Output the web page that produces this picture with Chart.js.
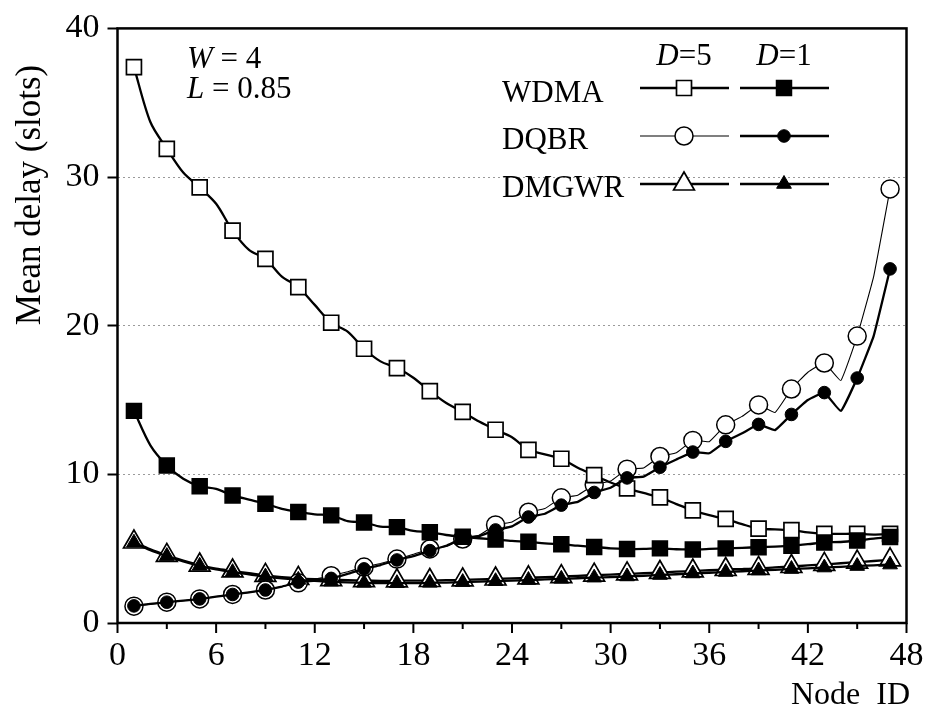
<!DOCTYPE html>
<html>
<head>
<meta charset="utf-8">
<title>Mean delay per node</title>
<script src="https://cdn.jsdelivr.net/npm/chart.js@4/dist/chart.umd.min.js"></script>
<style>
  html, body { margin: 0; padding: 0; background: #fff; }
  #wrap { width: 929px; height: 713px; position: relative; }
</style>
</head>
<body>
<div id="wrap"><canvas id="chart"></canvas></div>
<script>
// ===== data =====
const nodes = [1, 2, 3, 4, 5, 6, 7, 8, 9, 10, 11, 12, 13, 14, 15, 16, 17, 18, 19, 20, 21, 22, 23, 24,
  25, 26, 27, 28, 29, 30, 31, 32, 33, 34, 35, 36, 37, 38, 39, 40, 41, 42, 43, 44, 45, 46, 47];

const wdmaD5 = [37.4, 33.7, 31.9, 30.3, 29.3, 28.2, 26.4, 25.1, 24.5, 23.3, 22.6, 21.4, 20.2, 19.6,
  18.45, 17.6, 17.15, 16.5, 15.6, 14.8, 14.2, 13.55, 13.0, 12.5, 11.65, 11.35, 11.05, 10.45, 9.95,
  9.45, 9.05, 8.75, 8.45, 8.0, 7.58, 7.25, 7.0, 6.65, 6.35, 6.3, 6.25, 6.1, 6.0, 6.0, 6.0, 5.95, 6.0];
const wdmaD1 = [14.27, 11.95, 10.6, 9.7, 9.2, 9.02, 8.58, 8.3, 8.03, 7.68, 7.47, 7.31, 7.24, 6.85,
  6.76, 6.48, 6.45, 6.2, 6.1, 5.92, 5.8, 5.7, 5.62, 5.52, 5.47, 5.35, 5.3, 5.2, 5.12, 5.02, 4.98,
  4.98, 5.02, 4.96, 4.95, 4.98, 5.02, 5.06, 5.1, 5.14, 5.2, 5.3, 5.42, 5.45, 5.55, 5.68, 5.78];
const dqbrD5 = [1.13, 1.27, 1.4, 1.5, 1.62, 1.78, 1.92, 2.06, 2.22, 2.45, 2.7, 2.95, 3.18, 3.45,
  3.76, 4.0, 4.3, 4.62, 4.98, 5.15, 5.65, 5.9, 6.6, 6.8, 7.45, 7.7, 8.42, 8.6, 9.3, 9.55, 10.35,
  10.42, 11.2, 11.45, 12.28, 12.2, 13.33, 13.9, 14.67, 14.16, 15.74, 16.87, 17.49, 16.31, 19.3, 23.3, 29.2];
const dqbrD1 = [1.15, 1.28, 1.4, 1.5, 1.62, 1.77, 1.92, 2.06, 2.22, 2.45, 2.75, 2.85, 3.0, 3.3,
  3.64, 3.9, 4.24, 4.5, 4.87, 5.2, 5.71, 5.85, 6.26, 6.5, 7.13, 7.35, 7.93, 8.15, 8.78, 9.1, 9.76,
  9.85, 10.48, 11.0, 11.5, 11.42, 12.22, 12.76, 13.36, 12.98, 14.03, 15.0, 15.5, 14.26, 16.48, 19.3, 23.82];
const dmgwrD5 = [5.45, 4.95, 4.55, 4.2, 3.9, 3.65, 3.5, 3.35, 3.2, 3.08, 3.0, 2.95, 2.92, 2.88,
  2.85, 2.84, 2.84, 2.85, 2.86, 2.88, 2.9, 2.93, 2.96, 3.0, 3.04, 3.08, 3.12, 3.17, 3.22, 3.26, 3.3,
  3.35, 3.4, 3.45, 3.5, 3.55, 3.6, 3.63, 3.67, 3.74, 3.8, 3.87, 3.94, 4.02, 4.1, 4.17, 4.25];
const dmgwrD1 = [5.4, 4.9, 4.5, 4.15, 3.85, 3.6, 3.42, 3.28, 3.12, 3.0, 2.9, 2.83, 2.78, 2.73,
  2.7, 2.68, 2.68, 2.68, 2.7, 2.72, 2.75, 2.78, 2.81, 2.85, 2.89, 2.93, 2.97, 3.01, 3.05, 3.09, 3.13,
  3.18, 3.23, 3.28, 3.33, 3.38, 3.43, 3.48, 3.53, 3.58, 3.63, 3.68, 3.73, 3.78, 3.83, 3.88, 3.93];

const xTicks = [0, 3, 6, 9, 12, 15, 18, 21, 24, 27, 30, 33, 36, 39, 42, 45, 48];
const yGrid = [10, 20, 30];
const annotLines = [['W', ' = 4'], ['L', ' = 0.85']];
const legendNames = ['WDMA', 'DQBR', 'DMGWR'];
const legendHeads = [['D', '=5'], ['D', '=1']];

const SERIF = '"Liberation Serif", "Times New Roman", serif';

// ===== series styles =====
const styles = [
  { name: 'WDMA', d: 5, data: wdmaD5, shape: 'rect', r: 10.6, fill: '#fff', lw: 2.3, pbw: 1.7 },
  { name: 'WDMA', d: 1, data: wdmaD1, shape: 'rect', r: 10.6, fill: '#000', lw: 2.3, pbw: 1.5 },
  { name: 'DQBR', d: 5, data: dqbrD5, shape: 'circle', r: 9, fill: '#fff', lw: 1.1, pbw: 1.5 },
  { name: 'DQBR', d: 1, data: dqbrD1, shape: 'circle', r: 6.3, fill: '#000', lw: 2.3, pbw: 1 },
  { name: 'DMGWR', d: 5, data: dmgwrD5, shape: 'triangle', r: 12, fill: '#fff', lw: 2.3, pbw: 1.7 },
  { name: 'DMGWR', d: 1, data: dmgwrD1, shape: 'triangle', r: 8.5, fill: '#000', lw: 2.3, pbw: 1 }
];

function makeDataset(s) {
  const rad = c => (nodes[c.dataIndex] % 2 === 1 ? s.r : 0);
  return {
    label: s.name + ' D=' + s.d,
    data: nodes.map((n, i) => ({ x: n, y: s.data[i] })),
    borderColor: '#000',
    borderWidth: s.lw,
    backgroundColor: s.fill,
    pointStyle: s.shape,
    pointRadius: rad,
    pointHoverRadius: rad,
    pointBackgroundColor: s.fill,
    pointBorderColor: '#000',
    pointBorderWidth: s.pbw,
    tension: s.name === 'DQBR' ? 0.1 : 0.3,
    fill: false,
    order: s.d === 1 ? 1 : 2
  };
}

// ===== marker for the legend =====
function marker(ctx, s, x, y) {
  ctx.save();
  ctx.fillStyle = s.fill;
  ctx.strokeStyle = '#000';
  ctx.lineWidth = s.pbw;
  if (Chart.helpers && Chart.helpers.drawPoint) {
    Chart.helpers.drawPoint(ctx, { pointStyle: s.shape, radius: s.r, borderWidth: s.pbw, rotation: 0 }, x, y);
  } else {
    ctx.beginPath();
    ctx.arc(x, y, s.r, 0, Math.PI * 2);
    ctx.fill(); ctx.stroke();
  }
  ctx.restore();
}

// italic first part, roman rest
function mixedText(ctx, parts, x, y, size) {
  ctx.font = 'italic ' + size + 'px ' + SERIF;
  ctx.fillText(parts[0], x, y);
  const w = ctx.measureText(parts[0]).width;
  ctx.font = size + 'px ' + SERIF;
  ctx.fillText(parts[1], x + w, y);
  return w + ctx.measureText(parts[1]).width;
}

// ===== frame, ticks, titles, legend =====
const overlay = {
  id: 'overlay',
  afterDraw(chart) {
    const { ctx, chartArea: a, scales } = chart;
    const xs = scales.x;
    ctx.save();
    ctx.strokeStyle = '#000';
    ctx.fillStyle = '#000';

    // x ticks: long at labelled values, short between
    ctx.lineWidth = 2;
    xTicks.forEach(v => {
      const px = xs.getPixelForValue(v);
      ctx.beginPath();
      ctx.moveTo(px, a.bottom);
      ctx.lineTo(px, a.bottom + (v % 6 === 0 ? 10 : 6));
      ctx.stroke();
    });

    // frame
    ctx.lineWidth = 2.5;
    ctx.strokeRect(a.left, a.top, a.right - a.left, a.bottom - a.top);

    // axis titles
    ctx.textBaseline = 'alphabetic';
    ctx.save();
    ctx.translate(31, 195);
    ctx.rotate(-Math.PI / 2);
    ctx.textAlign = 'center';
    ctx.textBaseline = 'middle';
    ctx.font = '35px ' + SERIF;
    ctx.fillText('Mean delay (slots)', 0, 0);
    ctx.restore();

    ctx.textAlign = 'right';
    ctx.font = '32px ' + SERIF;
    ctx.fillText('Node  ID', 910, 704);

    // W / L note
    ctx.textAlign = 'left';
    mixedText(ctx, annotLines[0], 187, 68, 31);
    mixedText(ctx, annotLines[1], 187, 98, 31);

    // legend header
    const col = [684, 784];
    legendHeads.forEach((h, i) => {
      ctx.font = 'italic 31px ' + SERIF;
      const w1 = ctx.measureText(h[0]).width;
      ctx.font = '31px ' + SERIF;
      const w2 = ctx.measureText(h[1]).width;
      mixedText(ctx, h, col[i] - (w1 + w2) / 2, 65, 31);
    });

    // legend rows
    legendNames.forEach((name, row) => {
      const base = 101.5 + row * 47.5;
      const ly = 88 + row * 48;
      ctx.font = '31px ' + SERIF;
      ctx.textAlign = 'left';
      ctx.fillStyle = '#000';
      ctx.fillText(name, 502, base);
      [5, 1].forEach((d, i) => {
        const s = styles.find(t => t.name === name && t.d === d);
        ctx.lineWidth = s.lw;
        ctx.beginPath();
        ctx.moveTo(col[i] - 44, ly);
        ctx.lineTo(col[i] + 45, ly);
        ctx.stroke();
        marker(ctx, s, col[i], ly);
      });
    });
    ctx.restore();
  }
};

// ===== init =====
function initChart() {
  const ctx = document.getElementById('chart');
  new Chart(ctx, {
    type: 'line',
    data: { datasets: styles.map(makeDataset) },
    options: {
      responsive: true,
      maintainAspectRatio: false,
      animation: false,
      events: [],
      layout: { padding: { top: 23, right: 22.5, left: 0, bottom: 0 } },
      plugins: {
        legend: { display: false },
        tooltip: { enabled: false }
      },
      scales: {
        x: {
          type: 'linear',
          min: 0,
          max: 48,
          afterFit: s => { s.height = 90; },
          afterBuildTicks: s => { s.ticks = xTicks.map(v => ({ value: v })); },
          border: { display: false },
          grid: { drawOnChartArea: false, tickLength: 10, tickColor: 'transparent' },
          ticks: {
            autoSkip: false,
            maxRotation: 0,
            padding: 3,
            color: '#000',
            font: { family: SERIF, size: 34 },
            callback: v => (v % 6 === 0 ? String(v) : '')
          }
        },
        y: {
          min: 0,
          max: 40,
          afterFit: s => { s.width = 117.5; },
          border: { display: false, dash: [2, 3] },
          grid: {
            color: c => (c.tick && yGrid.includes(c.tick.value) ? '#9a9a9a' : 'transparent'),
            lineWidth: 1,
            tickLength: 10,
            tickColor: '#000',
            tickWidth: 2
          },
          ticks: {
            stepSize: 10,
            padding: 8,
            color: '#000',
            font: { family: SERIF, size: 34 }
          }
        }
      }
    },
    plugins: [overlay]
  });
}

window.onload = initChart;
</script>
</body>
</html>
